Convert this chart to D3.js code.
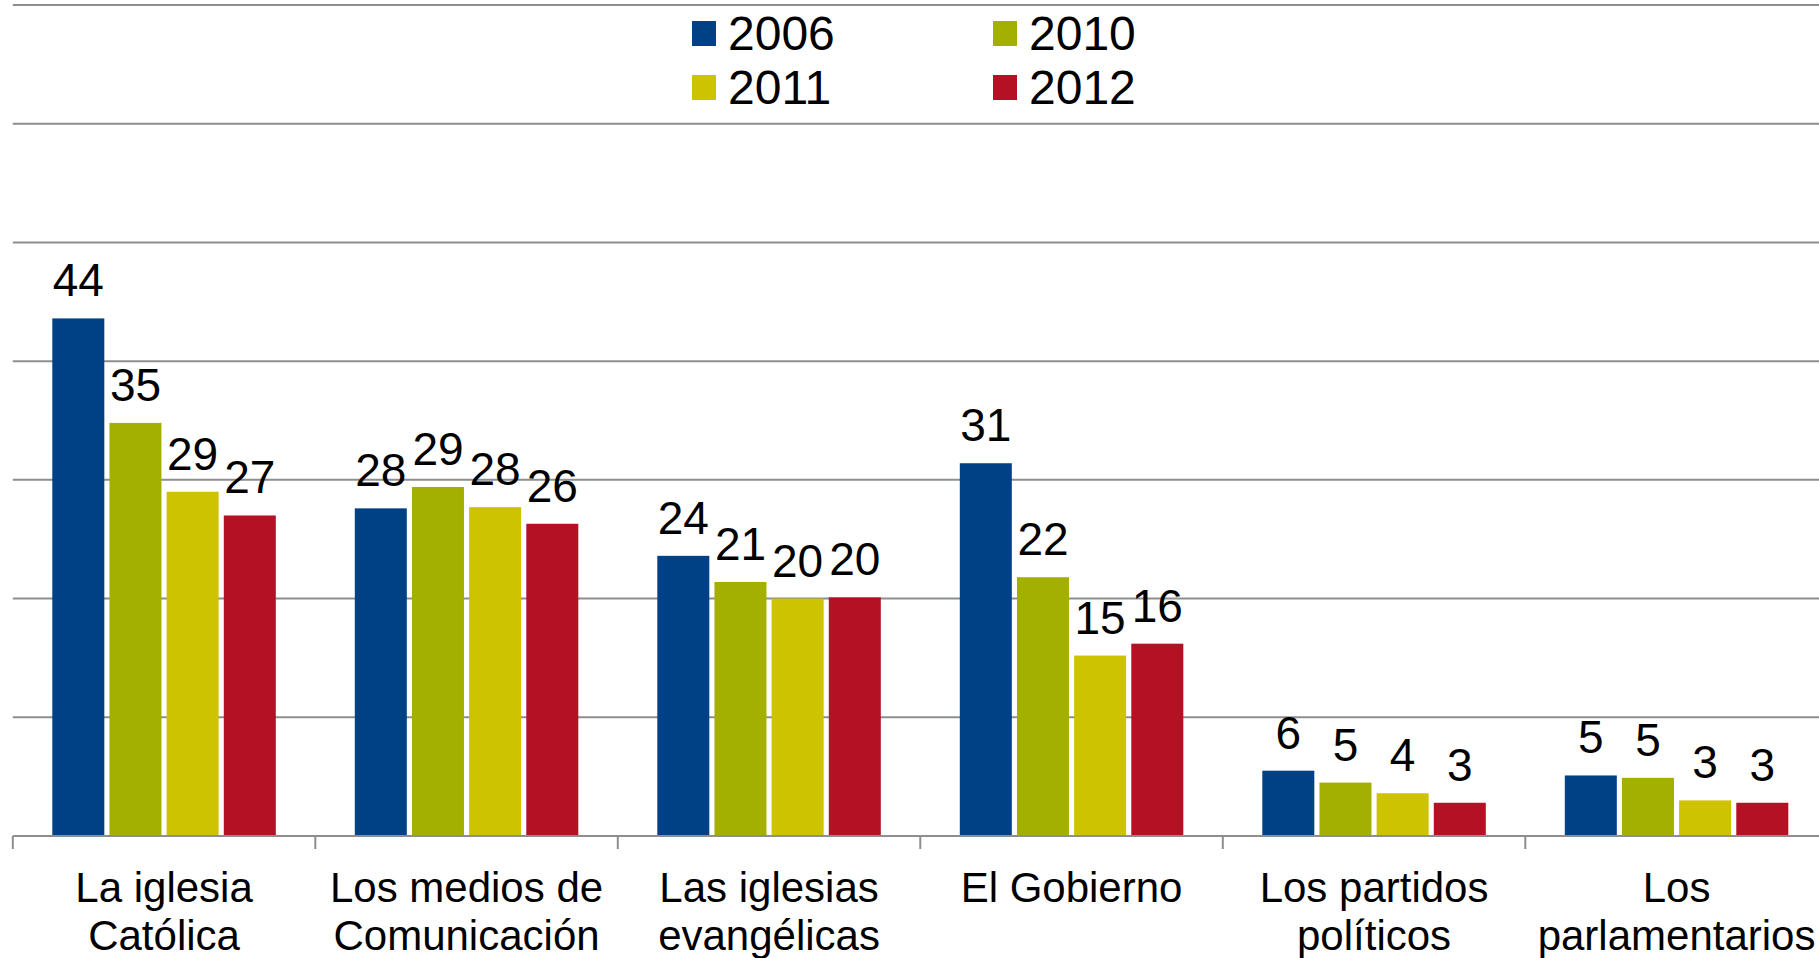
<!DOCTYPE html>
<html>
<head>
<meta charset="utf-8">
<script src="https://cdn.jsdelivr.net/npm/d3@7"></script>
<style>
  html, body { margin: 0; padding: 0; background: #fff; overflow: hidden; }
  svg { display: block; font-family: "Liberation Sans", Arial, sans-serif; }
  .grid line { stroke: #8e8e8e; stroke-width: 2; }
  .axis path, .axis line { stroke: #8e8e8e; stroke-width: 2; }
</style>
</head>
<body>
<div id="chart"></div>
<script>
// categories and series
var categories = [
  ["La iglesia", "Católica"],
  ["Los medios de", "Comunicación"],
  ["Las iglesias", "evangélicas"],
  ["El Gobierno"],
  ["Los partidos", "políticos"],
  ["Los", "parlamentarios"]
];
var years = ["2006", "2010", "2011", "2012"];
var colors = ["#004185", "#a4b000", "#cec300", "#b41224"];

// values per year, same order as categories
var v2006 = [43.6, 27.6, 23.6, 31.4, 5.5, 5.1];
var v2010 = [34.8, 29.4, 21.4, 21.8, 4.5, 4.9];
var v2011 = [29.0, 27.7, 20.0, 15.2, 3.6, 3.0];
var v2012 = [27.0, 26.3, 20.1, 16.2, 2.8, 2.8];
var yTicks = [0, 10, 20, 30, 40, 50, 60, 70];

var chartOpts = {
  width: 1819,
  height: 958,
  left: 12.8,
  bandWidth: 302.5,
  top: 5,
  baseline: 836
};

var series = [v2006, v2010, v2011, v2012];
var catNames = categories.map(function(c) { return c.join(" "); });

var svg = d3.select("#chart")
  .append("svg")
  .attr("width", chartOpts.width)
  .attr("height", chartOpts.height);

var x0 = d3.scaleBand()
  .domain(catNames)
  .range([chartOpts.left, chartOpts.left + chartOpts.bandWidth * catNames.length])
  .padding(0);

var x1 = d3.scaleBand()
  .domain(years)
  .range([39.5, 263])
  .paddingInner(0.09)
  .paddingOuter(0);

var y = d3.scaleLinear()
  .domain([0, 70])
  .range([chartOpts.baseline, chartOpts.top]);

// gridlines
svg.append("g")
  .attr("class", "grid")
  .selectAll("line")
  .data(yTicks.slice(1))
  .enter().append("line")
  .attr("x1", chartOpts.left)
  .attr("x2", chartOpts.width)
  .attr("y1", function(d) { return y(d); })
  .attr("y2", function(d) { return y(d); });

// bars
var groups = svg.append("g")
  .selectAll("g")
  .data(catNames)
  .enter().append("g")
  .attr("transform", function(d) { return "translate(" + x0(d) + ",0)"; });

var fmt = d3.format(".0f");

groups.each(function(cat, ci) {
  var g = d3.select(this);
  var rows = years.map(function(yr, si) { return { year: yr, value: series[si][ci], color: colors[si] }; });

  g.selectAll("rect")
    .data(rows)
    .enter().append("rect")
    .attr("x", function(d) { return x1(d.year); })
    .attr("y", function(d) { return y(d.value); })
    .attr("width", x1.bandwidth())
    .attr("height", function(d) { return y(0) - y(d.value); })
    .attr("fill", function(d) { return d.color; });

  g.selectAll("text")
    .data(rows)
    .enter().append("text")
    .attr("x", function(d) { return x1(d.year) + x1.bandwidth() / 2; })
    .attr("y", function(d) { return y(d.value) - 22; })
    .attr("text-anchor", "middle")
    .attr("font-size", 46)
    .attr("fill", "#000")
    .text(function(d) { return fmt(d.value); });
});

// x axis
var xAxis = svg.append("g")
  .attr("class", "axis")
  .attr("transform", "translate(0," + chartOpts.baseline + ")")
  .call(d3.axisBottom(x0).tickSize(0).tickFormat(""));
xAxis.select(".domain").attr("d", "M" + chartOpts.left + ",0H" + chartOpts.width);

// category separators
xAxis.selectAll(".sep")
  .data(catNames)
  .enter().append("line")
  .attr("class", "sep")
  .attr("x1", function(d) { return x0(d); })
  .attr("x2", function(d) { return x0(d); })
  .attr("y1", 0)
  .attr("y2", 13);

// category labels
var labels = svg.append("g")
  .selectAll("text")
  .data(categories)
  .enter().append("text")
  .attr("x", function(d, i) { return x0(catNames[i]) + x0.bandwidth() / 2; })
  .attr("y", 902)
  .attr("text-anchor", "middle")
  .attr("font-size", 42)
  .attr("fill", "#000");

labels.selectAll("tspan")
  .data(function(d) { return d; })
  .enter().append("tspan")
  .attr("x", function() { return d3.select(this.parentNode).attr("x"); })
  .attr("dy", function(d, i) { return i === 0 ? 0 : 48; })
  .text(function(d) { return d; });

// legend
var legendPos = [[692, 21], [993, 21], [692, 75], [993, 75]];
var legend = svg.append("g")
  .selectAll("g")
  .data(years)
  .enter().append("g")
  .attr("transform", function(d, i) { return "translate(" + legendPos[i][0] + "," + legendPos[i][1] + ")"; });

legend.append("rect")
  .attr("width", 24)
  .attr("height", 25)
  .attr("fill", function(d, i) { return colors[i]; });

legend.append("text")
  .attr("x", 36)
  .attr("y", 29)
  .attr("font-size", 48)
  .attr("fill", "#000")
  .text(function(d) { return d; });
</script>
</body>
</html>
